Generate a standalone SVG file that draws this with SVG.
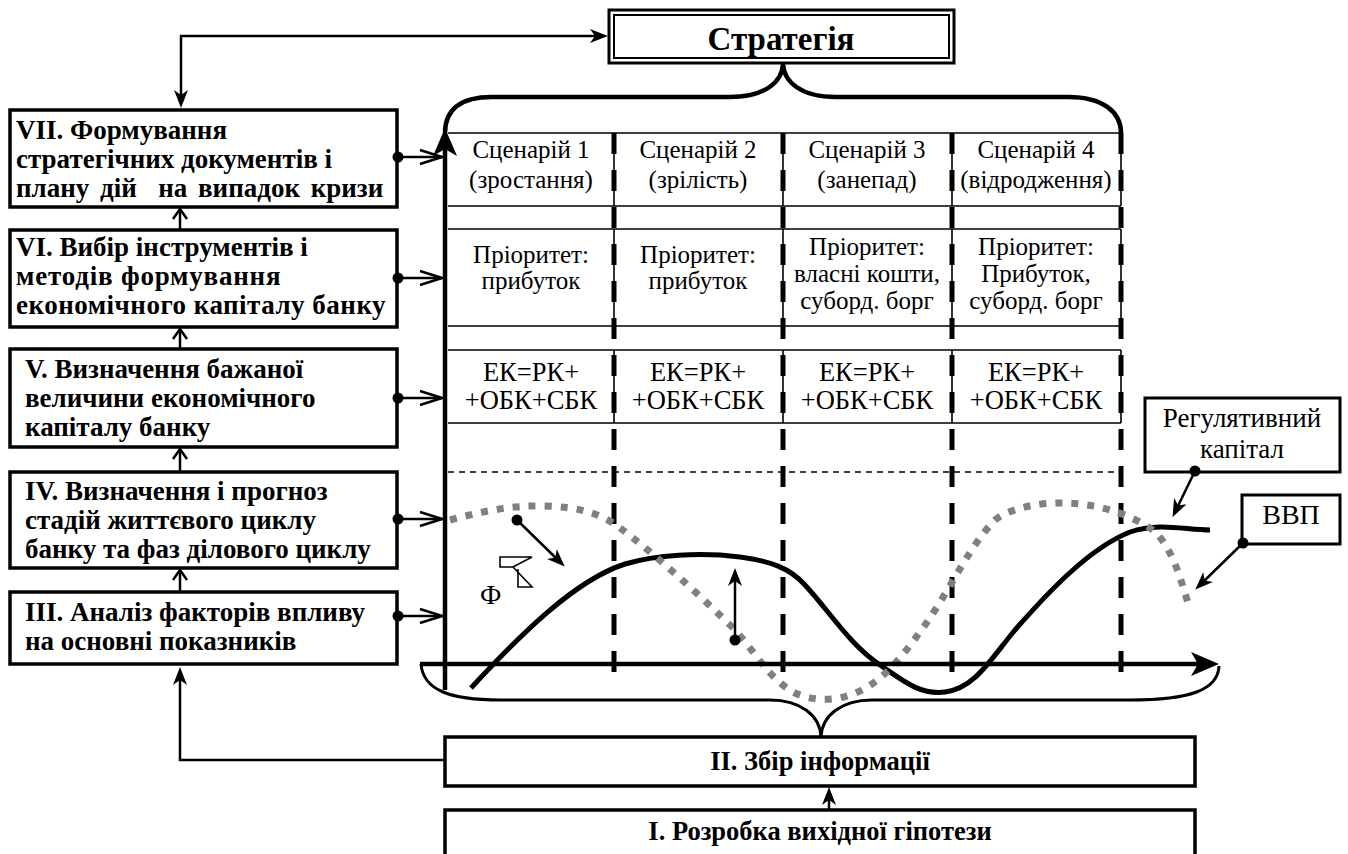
<svg xmlns="http://www.w3.org/2000/svg" width="1348" height="854" viewBox="0 0 1348 854">
<style>
.box{fill:#fff;stroke:#000;stroke-width:3.5}
.lt{font-family:"Liberation Serif","Times New Roman",serif;font-weight:bold;font-size:27px;fill:#000}
.ct{font-family:"Liberation Serif","Times New Roman",serif;font-weight:bold;font-size:26.5px;text-anchor:middle;fill:#000}
.tt{font-family:"Liberation Serif","Times New Roman",serif;font-size:25px;text-anchor:middle;fill:#000}
.ek{font-size:26.5px}
.cell{fill:none;stroke:#000;stroke-width:1.6}
.vd{stroke:#000;stroke-width:5;stroke-dasharray:21 16;fill:none}
.ln{stroke:#000;stroke-width:2.5;fill:none}
.dot{fill:#000}
</style>
<defs>
<marker id="a" viewBox="0 0 18 14" refX="10" refY="7" markerWidth="18" markerHeight="14" orient="auto-start-reverse" markerUnits="userSpaceOnUse">
<path d="M0,0 L18,7 L0,14 L5,7 Z" fill="#000"/>
</marker>
<marker id="ax" viewBox="0 0 28 24" refX="16" refY="12" markerWidth="28" markerHeight="24" orient="auto" markerUnits="userSpaceOnUse">
<path d="M0,0 L28,12 L0,24 L7,12 Z" fill="#000"/>
</marker>
<marker id="o" viewBox="-2 -2 26 18" refX="22" refY="7" markerWidth="26" markerHeight="18" orient="auto" markerUnits="userSpaceOnUse">
<path d="M0,0 L22,7 L0,14" fill="none" stroke="#000" stroke-width="2.5"/>
</marker>
<marker id="os" viewBox="-2 -2 14 18" refX="10" refY="7" markerWidth="14" markerHeight="18" orient="auto" markerUnits="userSpaceOnUse">
<path d="M0,0 L10,7 L0,14" fill="none" stroke="#000" stroke-width="2.5"/>
</marker>
</defs>
<rect width="1348" height="854" fill="#fff"/>

<g id="chart">
<path class="cell" d="M448,133 H1121 M448,206 H1121 M448,229 H1121 M448,326 H1121 M448,350 H1121 M448,423 H1121"/>
<path class="cell" d="M614,133 V206 M783,133 V206 M952,133 V206 M1121,133 V206 M614,229 V326 M783,229 V326 M952,229 V326 M1121,229 V326 M614,350 V423 M783,350 V423 M952,350 V423 M1121,350 V423"/>
<path class="vd" d="M614,133 V688 M783,133 V688 M952,133 V688 M1121,133 V688"/>
<path d="M448,472 H1121" stroke="#000" stroke-width="1.5" stroke-dasharray="6 5" fill="none"/>
<text class="tt" x="531" y="158">Сценарій 1</text>
<text class="tt" x="531" y="188">(зростання)</text>
<text class="tt" x="698" y="158">Сценарій 2</text>
<text class="tt" x="698" y="188">(зрілість)</text>
<text class="tt" x="867" y="158">Сценарій 3</text>
<text class="tt" x="867" y="188">(занепад)</text>
<text class="tt" x="1036" y="158">Сценарій 4</text>
<text class="tt" x="1036" y="188">(відродження)</text>
<text class="tt" x="531" y="263">Пріоритет:</text>
<text class="tt" x="531" y="289">прибуток</text>
<text class="tt" x="698" y="263">Пріоритет:</text>
<text class="tt" x="698" y="289">прибуток</text>
<text class="tt" x="867" y="255">Пріоритет:</text>
<text class="tt" x="867" y="282">власні кошти,</text>
<text class="tt" x="867" y="309">суборд. борг</text>
<text class="tt" x="1036" y="255">Пріоритет:</text>
<text class="tt" x="1036" y="282">Прибуток,</text>
<text class="tt" x="1036" y="309">суборд. борг</text>
<text class="tt ek" x="531" y="381">ЕК=РК+</text>
<text class="tt ek" x="531" y="409">+ОБК+СБК</text>
<text class="tt ek" x="698" y="381">ЕК=РК+</text>
<text class="tt ek" x="698" y="409">+ОБК+СБК</text>
<text class="tt ek" x="867" y="381">ЕК=РК+</text>
<text class="tt ek" x="867" y="409">+ОБК+СБК</text>
<text class="tt ek" x="1036" y="381">ЕК=РК+</text>
<text class="tt ek" x="1036" y="409">+ОБК+СБК</text>
<path d="M471,688 C520,635 575,580 625,564 C655,555 700,552 740,557 C770,561 790,568 805,585 C830,612 850,645 880,665 C905,682 920,695 945,692 C975,688 990,660 1015,630 C1050,590 1090,548 1130,532 C1160,522 1185,530 1210,530" fill="none" stroke="#000" stroke-width="5"/>
<path d="M450,520 C480,512 510,505 545,506 C575,507 600,512 620,528 C650,550 700,595 735,630 C755,652 770,680 795,693 C810,700 830,702 850,695 C880,685 900,660 925,625 C950,590 970,545 995,520 C1010,508 1040,502 1067,503 C1095,504 1125,512 1150,528 C1170,542 1180,575 1190,610" fill="none" stroke="#808080" stroke-width="7" stroke-dasharray="7 9"/>
<path d="M445,690 V140" fill="none" stroke="#000" stroke-width="4.5" marker-end="url(#ax)"/>
<path d="M420,664 H1207" fill="none" stroke="#000" stroke-width="4.5" marker-end="url(#ax)"/>
<path d="M445,133 C445,110 460,97 492,97 L730,97 C765,97 782,82 783,64 C784,82 801,97 836,97 L1068,97 C1103,97 1121,112 1121,133" fill="none" stroke="#000" stroke-width="4.5"/>
<path d="M421,664 C423,690 450,700 500,700 L770,700 C800,700 820,715 821,737 C822,715 842,700 872,700 L1130,700 C1190,700 1218,690 1219,666" fill="none" stroke="#000" stroke-width="3"/>
<text x="480" y="604" font-family="Liberation Serif, Times New Roman, serif" font-size="27" fill="#000">Ф</text>
<path d="M500,557 H532 L513,567 H500 Z M513,567 L532,587 H518 V569" fill="#fff" stroke="#000" stroke-width="1.6"/>
<circle class="dot" cx="517" cy="520" r="5.5"/>
<path class="ln" d="M517,520 L559,561" marker-end="url(#a)"/>
<circle class="dot" cx="735" cy="640" r="5.5"/>
<path class="ln" d="M735,640 V576" marker-end="url(#a)"/>
</g>

<g id="strategy">
<rect x="609" y="10" width="345" height="53" fill="#fff" stroke="#000" stroke-width="3"/>
<rect x="614" y="15" width="335" height="43" fill="none" stroke="#000" stroke-width="2"/>
<text class="ct" x="781" y="50" style="font-size:33px">Стратегія</text>
</g>

<g id="box7">
<rect class="box" x="10" y="110" width="387" height="97"/>
<text class="lt" x="16" y="139">VII. Формування</text>
<text class="lt" x="16" y="168">стратегічних документів і</text>
<text class="lt" x="16" y="197" xml:space="preserve" word-spacing="4">плану дій  на випадок кризи</text>
</g>
<g id="box6">
<rect class="box" x="10" y="230" width="387" height="97"/>
<text class="lt" x="16" y="256">VI. Вибір інструментів і</text>
<text class="lt" x="16" y="285" letter-spacing="0.8">методів формування</text>
<text class="lt" x="16" y="314" letter-spacing="0.5">економічного капіталу банку</text>
</g>
<g id="box5">
<rect class="box" x="10" y="349" width="387" height="98"/>
<text class="lt" x="25" y="378">V. Визначення бажаної</text>
<text class="lt" x="25" y="407">величини економічного</text>
<text class="lt" x="25" y="436">капіталу банку</text>
</g>
<g id="box4">
<rect class="box" x="10" y="472" width="387" height="96"/>
<text class="lt" x="25" y="500">IV. Визначення і прогноз</text>
<text class="lt" x="25" y="529">стадій життєвого циклу</text>
<text class="lt" x="25" y="558">банку та фаз ділового циклу</text>
</g>
<g id="box3">
<rect class="box" x="10" y="592" width="387" height="72"/>
<text class="lt" x="25" y="621">III. Аналіз факторів впливу</text>
<text class="lt" x="25" y="650">на основні показників</text>
</g>
<g id="box2">
<rect class="box" x="445" y="737" width="750" height="49"/>
<text class="ct" x="820" y="770">II. Збір інформації</text>
</g>
<g id="box1">
<rect class="box" x="445" y="810" width="750" height="70"/>
<text class="ct" x="820" y="840">I. Розробка вихідної гіпотези</text>
</g>
<g id="regcap">
<rect x="1145" y="398" width="195" height="74" fill="#fff" stroke="#000" stroke-width="3"/>
<text class="tt" x="1242" y="427" style="font-size:27px">Регулятивний</text>
<text class="tt" x="1242" y="458" style="font-size:27px">капітал</text>
</g>
<g id="gdp">
<rect x="1242" y="495" width="98" height="49" fill="#fff" stroke="#000" stroke-width="3"/>
<text class="tt" x="1291" y="524" style="font-size:28px">ВВП</text>
</g>

<g id="connectors">
<path class="ln" d="M181,100 V36 H600" marker-start="url(#a)" marker-end="url(#a)"/>
<path class="ln" d="M180,230 V209" marker-end="url(#os)"/>
<path class="ln" d="M180,349 V329" marker-end="url(#os)"/>
<path class="ln" d="M180,472 V449" marker-end="url(#os)"/>
<path class="ln" d="M180,592 V570" marker-end="url(#os)"/>
<path class="ln" d="M445,760 H180 V675" marker-end="url(#a)"/>
<path class="ln" d="M829,810 V795" marker-end="url(#a)"/>
<circle class="dot" cx="398" cy="157" r="5.5"/>
<path class="ln" d="M398,157 H442" marker-end="url(#o)"/>
<circle class="dot" cx="398" cy="278" r="5.5"/>
<path class="ln" d="M398,278 H442" marker-end="url(#o)"/>
<circle class="dot" cx="398" cy="398" r="5.5"/>
<path class="ln" d="M398,398 H442" marker-end="url(#o)"/>
<circle class="dot" cx="398" cy="519" r="5.5"/>
<path class="ln" d="M398,519 H442" marker-end="url(#o)"/>
<circle class="dot" cx="398" cy="616" r="5.5"/>
<path class="ln" d="M398,616 H442" marker-end="url(#o)"/>
<circle class="dot" cx="1195" cy="471" r="5.5"/>
<path class="ln" d="M1195,471 L1176,510" marker-end="url(#a)"/>
<circle class="dot" cx="1243" cy="543" r="5.5"/>
<path class="ln" d="M1243,543 L1201,584" marker-end="url(#a)"/>
</g>
</svg>
